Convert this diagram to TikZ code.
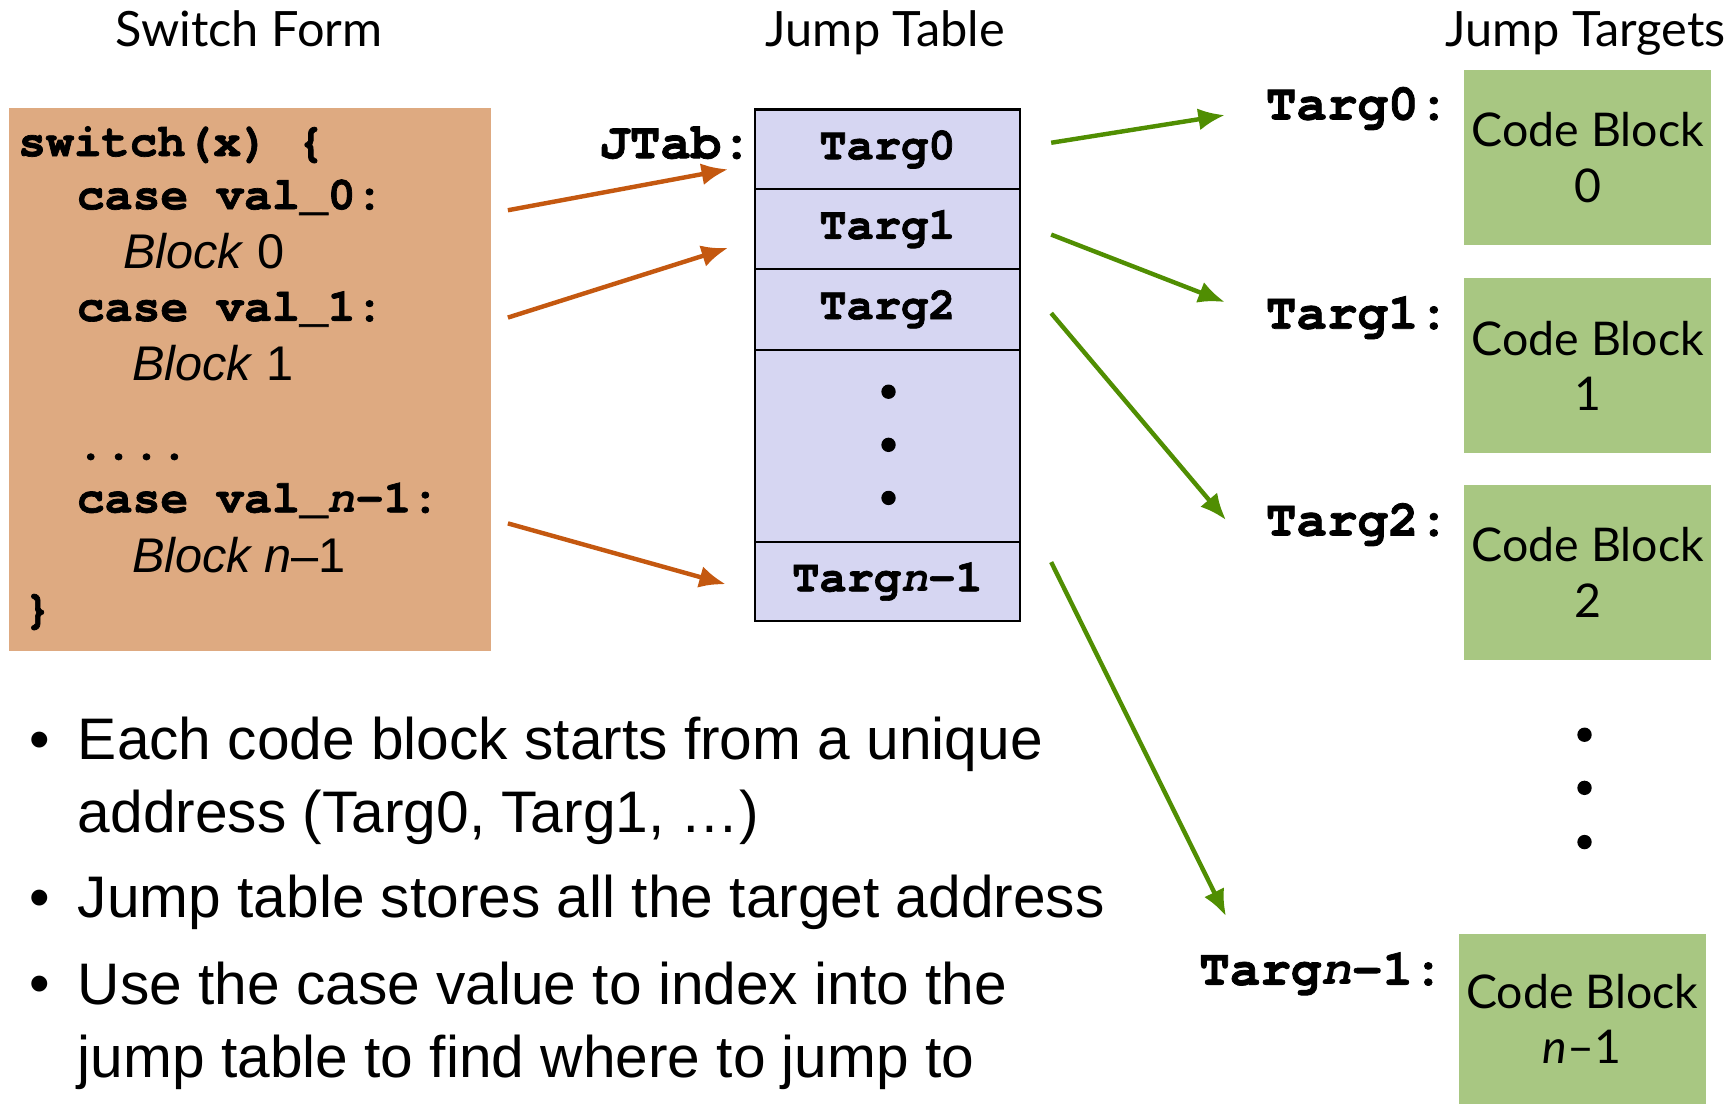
\documentclass[tikz,border=0pt]{standalone}
\usepackage{fontspec}
\setmainfont{Liberation Sans}
\setmonofont[BoldFeatures={FakeBold=1.5}]{TeX Gyre Cursor}
\newfontfamily\gillfont{Lato}
\usepackage{tikz}
\usetikzlibrary{arrows.meta, positioning}
\definecolor{switchtan}{RGB}{222,170,129}
\definecolor{tablelilac}{RGB}{214,214,242}
\definecolor{blockgreen}{RGB}{168,199,130}
\definecolor{caseorange}{RGB}{196,88,16}
\definecolor{targgreen}{RGB}{80,142,2}
\tikzstyle{title} = [font=\gillfont\fontsize{22}{26}\selectfont, anchor=base]
\tikzstyle{code} = [font=\ttfamily\bfseries\fontsize{21}{25}\selectfont, anchor=base west, inner sep=0pt]
\tikzstyle{blockname} = [font=\itshape\fontsize{22}{26}\selectfont, anchor=base west, inner sep=0pt]
\tikzstyle{slot} = [rectangle, draw, line width=1pt, fill=tablelilac, minimum width=120pt,
    outer sep=0pt, font=\ttfamily\bfseries\fontsize{20.5}{24}\selectfont]
\tikzstyle{addr} = [font=\ttfamily\bfseries\fontsize{23}{27}\selectfont, anchor=base east, inner sep=0pt]
\tikzstyle{codeblock} = [rectangle, fill=blockgreen, minimum width=109.5pt, minimum height=79pt,
    align=center, anchor=north west, font=\gillfont\fontsize{21}{25}\selectfont]
\tikzstyle{dot} = [circle, fill=black, inner sep=0pt, minimum size=6.5pt]
\tikzstyle{bullet} = [font=\fontsize{26.5}{33}\selectfont, align=left, anchor=base west, inner sep=0pt]
\tikzstyle{caseline} = [draw=caseorange, line width=2pt, -{Latex[length=12pt,width=10pt]}]
\tikzstyle{targline} = [draw=targgreen, line width=2pt, -{Latex[length=12pt,width=10pt]}]
\begin{document}
\begin{tikzpicture}[x=0.5pt, y=-0.5pt]
      \useasboundingbox (0,0) rectangle (1568,998);
      % Titles
      \node [title] (switch-title) at (225,42) {Switch Form};
      \node [title] (table-title) at (800,42) {Jump Table};
      \node [title] (targets-title) at (1433,42) {Jump Targets};
      % Switch form
      \node [rectangle, fill=switchtan, minimum width=217.5pt, minimum height=245.5pt, anchor=north west] (switch-form) at (8,97) {};
      \node [code] (switch-line) at (16,141) {switch(x) \{};
      \node [code] (case0-line) at (69,189) {case val\_0:};
      \node [blockname] (block0-line) at (111,243) {Block \textup{0}};
      \node [code] (case1-line) at (69,290) {case val\_1:};
      \node [blockname] (block1-line) at (119,344) {Block \textup{1}};
      \node [code] (more-line) at (69,415) {....};
      \node [code] (casen-line) at (69,463) {case val\_\textit{n}-1:};
      \node [blockname] (blockn-line) at (119,517) {Block n\textup{–1}};
      \node [code] (close-line) at (21,563) {\}};
      % Jump table
      \node [addr] (jtab-label) at (680,143) {JTab:};
      \node [slot, minimum height=36pt, anchor=north west] (targ0-slot) at (682,99) {Targ0};
      \node [slot, minimum height=36pt, below=0pt of targ0-slot] (targ1-slot) {Targ1};
      \node [slot, minimum height=36.5pt, below=0pt of targ1-slot] (targ2-slot) {Targ2};
      \node [slot, minimum height=87pt, below=0pt of targ2-slot] (more-slot) {};
      \node [slot, minimum height=35.5pt, below=0pt of more-slot] (targn-slot) {Targ\textit{n}-1};
      \node [dot] (slot-dot1) at (803,354) {};
      \node [dot] (slot-dot2) at (803,402) {};
      \node [dot] (slot-dot3) at (803,450) {};
      % Jump targets
      \node [addr] (targ0-addr) at (1310,108) {Targ0:};
      \node [addr] (targ1-addr) at (1310,297) {Targ1:};
      \node [addr] (targ2-addr) at (1310,484) {Targ2:};
      \node [addr] (targn-addr) at (1305,890) {Targ\textit{n}-1:};
      \node [codeblock] (block0) at (1323,63) {Code Block\\0};
      \node [codeblock] (block1) at (1323,251) {Code Block\\1};
      \node [codeblock] (block2) at (1323,438) {Code Block\\2};
      \node [codeblock, minimum height=76.5pt] (blockn) at (1318,844) {Code Block\\\textit{n}–1};
      \node [dot] (block-dot1) at (1432,664) {};
      \node [dot] (block-dot2) at (1432,712) {};
      \node [dot] (block-dot3) at (1432,761) {};
      % Notes (base anchor sits on the last line)
      \node [bullet] (note1-mark) at (26,686) {•};
      \node [bullet] (note1) at (70,752) {Each code block starts from a unique\\address (Targ0, Targ1, …)};
      \node [bullet] (note2-mark) at (26,829) {•};
      \node [bullet] (note2) at (70,829) {Jump table stores all the target address};
      \node [bullet] (note3-mark) at (26,907) {•};
      \node [bullet] (note3) at (70,974) {Use the case value to index into the\\jump table to find where to jump to};
      % Arrow ends
      \coordinate (case0-from) at (459,190);
      \coordinate (case0-to) at (658,153);
      \coordinate (case1-from) at (459,287);
      \coordinate (case1-to) at (658,224);
      \coordinate (casen-from) at (459,473);
      \coordinate (casen-to) at (656,528);
      \coordinate (targ0-from) at (950,129);
      \coordinate (targ0-to) at (1107,104);
      \coordinate (targ1-from) at (950,212);
      \coordinate (targ1-to) at (1107,273);
      \coordinate (targ2-from) at (950,283);
      \coordinate (targ2-to) at (1108,470);
      \coordinate (targn-from) at (950,508);
      \coordinate (targn-to) at (1108,828);
      % Draw edges
      \path [caseline] (case0-from) -- (case0-to);
      \path [caseline] (case1-from) -- (case1-to);
      \path [caseline] (casen-from) -- (casen-to);
      \path [targline] (targ0-from) -- (targ0-to);
      \path [targline] (targ1-from) -- (targ1-to);
      \path [targline] (targ2-from) -- (targ2-to);
      \path [targline] (targn-from) -- (targn-to);
\end{tikzpicture}
\end{document}
